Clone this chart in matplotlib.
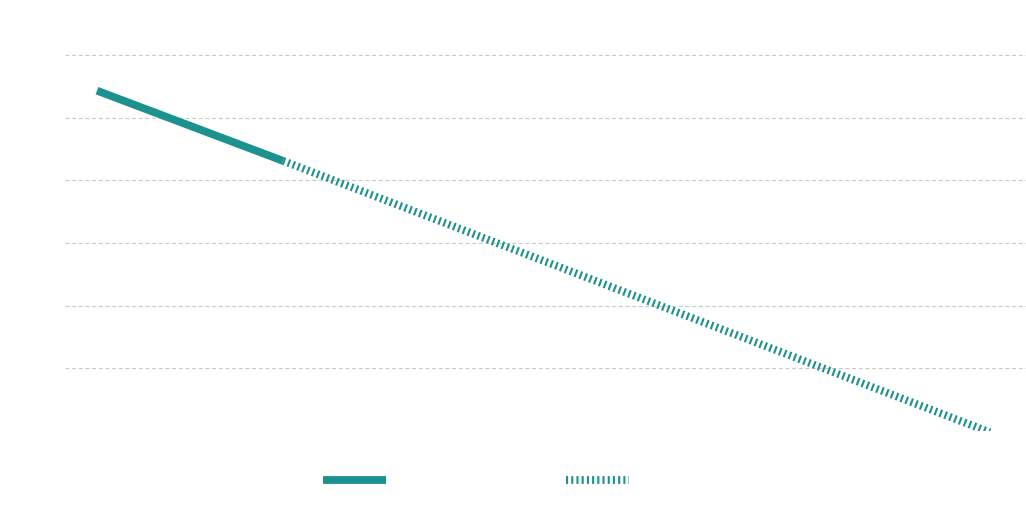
import matplotlib
matplotlib.use("Agg")
import matplotlib.pyplot as plt
from matplotlib.lines import Line2D

# Data (no text visible in the reference)
years_actual = [2021, 2026]
values_actual = [5.43, 4.31]
years_proj = [2026, 2045]
values_proj = [4.31, -0.02]
grid_values = [1, 2, 3, 4, 5, 6]
legend_labels = ["", ""]

color = "#1c918e"
W, H = 1026, 507
fig = plt.figure(figsize=(W / 100, H / 100), dpi=100)
bottom_px, top_px = 431, 23.6
left_px = 65
ax = fig.add_axes([left_px / W, (H - bottom_px) / H, 1 - left_px / W, (bottom_px - top_px) / H])

ax.plot(years_actual, values_actual, color=color, lw=5.6, solid_capstyle="butt", zorder=3)
ax.plot(years_proj, values_proj, color=color, lw=5.6, dashes=(0.27, 0.4),
        dash_capstyle="butt", zorder=3)

ax.set_xlim(2020.14, 2045.97)
ax.set_ylim(0, 6.5)
ax.set_yticks(grid_values)
ax.set_xticks([])
ax.yaxis.grid(True, color="#c8c8c8", lw=0.8, linestyle=(0, (3.5, 2.5)))
ax.tick_params(left=False, labelleft=False, bottom=False, labelbottom=False)
for s in ax.spines.values():
    s.set_visible(False)

handles = [
    Line2D([], [], color=color, lw=5.6, solid_capstyle="butt"),
    Line2D([], [], color=color, lw=5.6, dashes=(0.27, 0.4), dash_capstyle="butt"),
]
fig.legend(handles, legend_labels, loc="center", ncol=2, frameon=False,
           bbox_to_anchor=(476 / W, 1 - 481 / H), fontsize=10,
           handlelength=4.55, handletextpad=0, columnspacing=13.0, borderpad=0)

fig.savefig("out.png", dpi=100, facecolor="white")
